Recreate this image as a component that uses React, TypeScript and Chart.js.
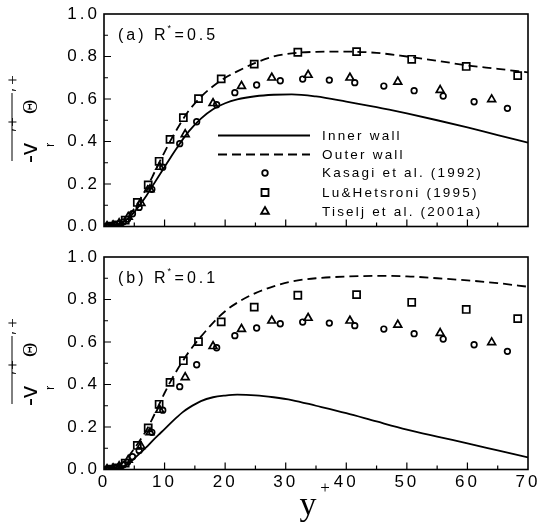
import React, { useEffect, useRef } from 'react';
import { Chart, registerables } from 'chart.js';
Chart.register(...registerables);

// ---- data ----
const wallX = [0, 1, 2, 3, 4, 5, 6, 7, 8, 9, 10, 11, 12, 13, 14, 16, 18, 20, 22, 25, 28, 31, 35, 40, 45, 50, 55, 60, 65, 70];
const innerA = [0, 0.001, 0.005, 0.016, 0.038, 0.068, 0.105, 0.145, 0.19, 0.235, 0.28, 0.325, 0.368, 0.41, 0.448, 0.508, 0.552, 0.58, 0.598, 0.613, 0.62, 0.622, 0.612, 0.588, 0.562, 0.532, 0.5, 0.466, 0.43, 0.395];
const outerA = [0, 0.001, 0.006, 0.02, 0.045, 0.085, 0.13, 0.18, 0.235, 0.295, 0.35, 0.405, 0.455, 0.503, 0.545, 0.61, 0.66, 0.7, 0.73, 0.77, 0.8, 0.815, 0.822, 0.823, 0.817, 0.8, 0.78, 0.758, 0.742, 0.725];
const innerB = [0, 0.001, 0.004, 0.013, 0.028, 0.052, 0.078, 0.105, 0.135, 0.163, 0.19, 0.218, 0.245, 0.27, 0.29, 0.322, 0.34, 0.348, 0.352, 0.349, 0.34, 0.327, 0.3, 0.265, 0.226, 0.188, 0.155, 0.123, 0.09, 0.057];
const outerB = [0, 0.002, 0.01, 0.03, 0.06, 0.098, 0.14, 0.185, 0.24, 0.3, 0.36, 0.415, 0.465, 0.51, 0.553, 0.625, 0.69, 0.745, 0.785, 0.83, 0.862, 0.885, 0.9, 0.908, 0.911, 0.909, 0.9, 0.89, 0.877, 0.86];

const kasagiX = [0.3, 0.8, 1.3, 1.9, 2.5, 3.2, 3.9, 4.7, 5.8, 7.9, 9.7, 12.5, 15.3, 18.6, 21.6, 25.2, 29.1, 32.8, 37.2, 41.4, 46.2, 51.2, 56.0, 61.1, 66.6];
const kasagiY = [0, 0.001, 0.003, 0.006, 0.012, 0.022, 0.035, 0.06, 0.09, 0.175, 0.279, 0.39, 0.493, 0.573, 0.63, 0.666, 0.686, 0.694, 0.689, 0.677, 0.661, 0.639, 0.614, 0.587, 0.556];
const luX = [1.0, 2.0, 3.5, 5.5, 7.3, 9.1, 10.9, 13.1, 15.6, 19.35, 24.8, 32.0, 41.7, 50.8, 59.8, 68.3];
const luY = [0.002, 0.008, 0.03, 0.113, 0.196, 0.307, 0.41, 0.512, 0.602, 0.695, 0.764, 0.82, 0.823, 0.787, 0.753, 0.71];
const tiseljX = [0.5, 1.5, 2.5, 4.0, 6.1, 7.6, 9.2, 13.4, 18.0, 22.7, 27.7, 33.7, 40.6, 48.5, 55.5, 64.0];
const tiseljY = [0.001, 0.005, 0.015, 0.045, 0.11, 0.175, 0.28, 0.434, 0.58, 0.661, 0.7, 0.713, 0.7, 0.681, 0.642, 0.598];

const legendLabels = ['Inner wall', 'Outer wall', 'Kasagi et al. (1992)', 'Lu&Hetsroni (1995)', 'Tiselj et al. (2001a)'];
const xTickStep = 5;
const yTickStep = 0.1;

const pts = (xs: number[], ys: number[]) => xs.map((x, i) => ({ x, y: ys[i] }));

function drawMarker(ctx: CanvasRenderingContext2D, style: string, x: number, y: number) {
  ctx.beginPath();
  if (style === 'circle') {
    ctx.arc(x, y, 2.8, 0, Math.PI * 2);
  } else if (style === 'rect') {
    ctx.rect(x - 3.5, y - 3.5, 7, 7);
  } else {
    const r = 4.5;
    ctx.moveTo(x, y - r);
    ctx.lineTo(x + r * 0.866, y + r * 0.5);
    ctx.lineTo(x - r * 0.866, y + r * 0.5);
    ctx.closePath();
  }
  ctx.stroke();
}

function makePlugin(panel: 'a' | 'b') {
  return {
    id: 'custom_' + panel,
    beforeDraw(chart: any) {
      chart.ctx.letterSpacing = '3px';
    },
    afterDraw(chart: any) {
      const ctx: CanvasRenderingContext2D = chart.ctx;
      const a = chart.chartArea;
      ctx.save();
      ctx.letterSpacing = '0px';
      ctx.strokeStyle = '#000';
      ctx.fillStyle = '#000';
      ctx.lineWidth = 1.6;
      ctx.strokeRect(a.left, a.top, a.right - a.left, a.bottom - a.top);
      // inward ticks
      const xs = chart.scales.x, ys = chart.scales.y;
      ctx.lineWidth = 1.2;
      ctx.beginPath();
      xs.ticks.forEach((t: any) => {
        const p = xs.getPixelForValue(t.value);
        if (p <= a.left + 1 || p >= a.right - 1) return;
        const L = Math.round(t.value) % 10 === 0 ? 7 : 4;
        ctx.moveTo(p, a.bottom);
        ctx.lineTo(p, a.bottom - L);
      });
      ys.ticks.forEach((t: any) => {
        const p = ys.getPixelForValue(t.value);
        if (p <= a.top + 1 || p >= a.bottom - 1) return;
        const L = Math.round(t.value * 10) % 2 === 0 ? 7 : 4;
        ctx.moveTo(a.left, p);
        ctx.lineTo(a.left + L, p);
      });
      ctx.stroke();

      // panel label
      ctx.letterSpacing = '3px';
      ctx.font = '16px "Liberation Sans"';
      ctx.textBaseline = 'alphabetic';
      ctx.textAlign = 'left';
      let x = a.left + 14;
      const by = a.top + 26;
      const p1 = panel === 'a' ? '(a) R' : '(b) R';
      ctx.fillText(p1, x, by);
      x += ctx.measureText(p1).width;
      ctx.font = '9px "Liberation Sans"';
      ctx.letterSpacing = '0px';
      ctx.fillText('*', x - 1, by - 9);
      x += 6;
      ctx.letterSpacing = '3px';
      ctx.font = '16px "Liberation Sans"';
      ctx.fillText(panel === 'a' ? '=0.5' : '=0.1', x, by);

      // y axis label (rotated)
      ctx.save();
      ctx.letterSpacing = '0px';
      ctx.translate(37, a.top + 149);
      ctx.rotate(-Math.PI / 2);
      ctx.textAlign = 'left';
      ctx.textBaseline = 'alphabetic';
      ctx.font = '24px "Liberation Sans"';
      ctx.fillText('-v', 0, 0);
      ctx.font = '13px "Liberation Sans"';
      ctx.fillText('r', 16, 17);
      ctx.textBaseline = 'middle';
      ctx.textAlign = 'center';
      ctx.font = '17px "Liberation Serif"';
      ctx.fillText('\u2032', 33, -18);
      ctx.fillText('+', 41, -23);
      ctx.textAlign = 'left';
      ctx.font = '20px "Liberation Serif"';
      ctx.fillText('\u0398', 49, -5);
      ctx.textAlign = 'center';
      ctx.font = '17px "Liberation Serif"';
      ctx.fillText('\u2032', 73, -18);
      ctx.fillText('+', 83, -23);
      ctx.lineWidth = 1;
      ctx.beginPath();
      ctx.moveTo(2, -25);
      ctx.lineTo(70, -25);
      ctx.stroke();
      ctx.restore();

      if (panel === 'a') {
        // legend
        ctx.lineWidth = 1.8;
        const rows = [135.5, 154.5, 173, 192.5, 211.5];
        ctx.beginPath();
        ctx.moveTo(218, rows[0]);
        ctx.lineTo(310, rows[0]);
        ctx.stroke();
        ctx.save();
        ctx.setLineDash([9, 5]);
        ctx.beginPath();
        ctx.moveTo(218, rows[1]);
        ctx.lineTo(310, rows[1]);
        ctx.stroke();
        ctx.restore();
        drawMarker(ctx, 'circle', 265, rows[2]);
        drawMarker(ctx, 'rect', 265, rows[3]);
        drawMarker(ctx, 'triangle', 265, rows[4]);
        ctx.font = '13.5px "Liberation Sans"';
        ctx.letterSpacing = '2.2px';
        ctx.textBaseline = 'middle';
        ctx.textAlign = 'left';
        legendLabels.forEach((s, i) => ctx.fillText(s, 322, rows[i] + 0.5));
      } else {
        // x axis title
        ctx.letterSpacing = '0px';
        ctx.textAlign = 'center';
        ctx.textBaseline = 'alphabetic';
        ctx.font = '34px "Liberation Serif"';
        ctx.fillText('y', 308, 275);
        ctx.font = '17px "Liberation Serif"';
        ctx.fillText('+', 325, 253);
      }
      ctx.restore();
    },
  };
}

function makeConfig(panel: 'a' | 'b'): any {
  const inner = panel === 'a' ? innerA : innerB;
  const outer = panel === 'a' ? outerA : outerB;
  const lineBase = { showLine: true, pointRadius: 0, borderColor: '#000', borderWidth: 1.8, cubicInterpolationMode: 'monotone', fill: false };
  const markBase = { showLine: false, borderColor: '#000', backgroundColor: 'rgba(0,0,0,0)', borderWidth: 1.7 };
  const tickFont = { family: 'Liberation Sans', size: 17 };
  return {
    type: 'scatter',
    data: {
      datasets: [
        { ...markBase, label: legendLabels[2], data: pts(kasagiX, kasagiY), pointStyle: 'circle', pointRadius: 2.8 },
        { ...markBase, label: legendLabels[3], data: pts(luX, luY), pointStyle: 'rect', pointRadius: 5 },
        { ...markBase, label: legendLabels[4], data: pts(tiseljX, tiseljY), pointStyle: 'triangle', pointRadius: 4.5 },
        { ...lineBase, label: legendLabels[0], data: pts(wallX, inner) },
        { ...lineBase, label: legendLabels[1], data: pts(wallX, outer), borderDash: [9, 5] },
      ],
    },
    options: {
      responsive: false,
      animation: false,
      devicePixelRatio: 1,
      events: [],
      layout: { padding: { left: 0, right: 10, top: panel === 'a' ? 14 : 17, bottom: 0 } },
      plugins: { legend: { display: false }, tooltip: { enabled: false } },
      scales: {
        x: {
          type: 'linear',
          min: 0,
          max: 70,
          grid: { display: false, drawTicks: false },
          border: { display: false },
          ticks: {
            display: panel === 'b',
            stepSize: xTickStep,
            autoSkip: false,
            maxRotation: 0,
            padding: 3,
            color: '#000',
            font: tickFont,
            callback: (v: number) => (Math.round(v) % 10 === 0 ? String(v) : ''),
          },
          afterFit: (s: any) => {
            s.height = panel === 'a' ? 13.5 : 54.5;
            s.paddingLeft = 0;
            s.paddingRight = 0;
          },
        },
        y: {
          type: 'linear',
          min: 0,
          max: 1,
          grid: { display: false, drawTicks: false },
          border: { display: false },
          ticks: {
            stepSize: yTickStep,
            autoSkip: false,
            padding: 4,
            color: '#000',
            font: tickFont,
            callback: (v: number) => {
              const k = Math.round(v * 10);
              return k % 2 === 0 ? (k / 10).toFixed(1) : '';
            },
          },
          afterFit: (s: any) => {
            s.width = 104;
            s.paddingTop = 0;
            s.paddingBottom = 0;
          },
        },
      },
    },
    plugins: [makePlugin(panel)],
  };
}

export default function App() {
  const refA = useRef<HTMLCanvasElement>(null);
  const refB = useRef<HTMLCanvasElement>(null);
  useEffect(() => {
    const ca = new Chart(refA.current!, makeConfig('a'));
    const cb = new Chart(refB.current!, makeConfig('b'));
    return () => {
      ca.destroy();
      cb.destroy();
    };
  }, []);
  return (
    <div style={{ position: 'absolute', left: 0, top: 0, width: 538, height: 524, background: '#fff' }}>
      <canvas ref={refA} width={538} height={240} style={{ position: 'absolute', left: 0, top: 0 }} />
      <canvas ref={refB} width={538} height={284} style={{ position: 'absolute', left: 0, top: 240 }} />
    </div>
  );
}
